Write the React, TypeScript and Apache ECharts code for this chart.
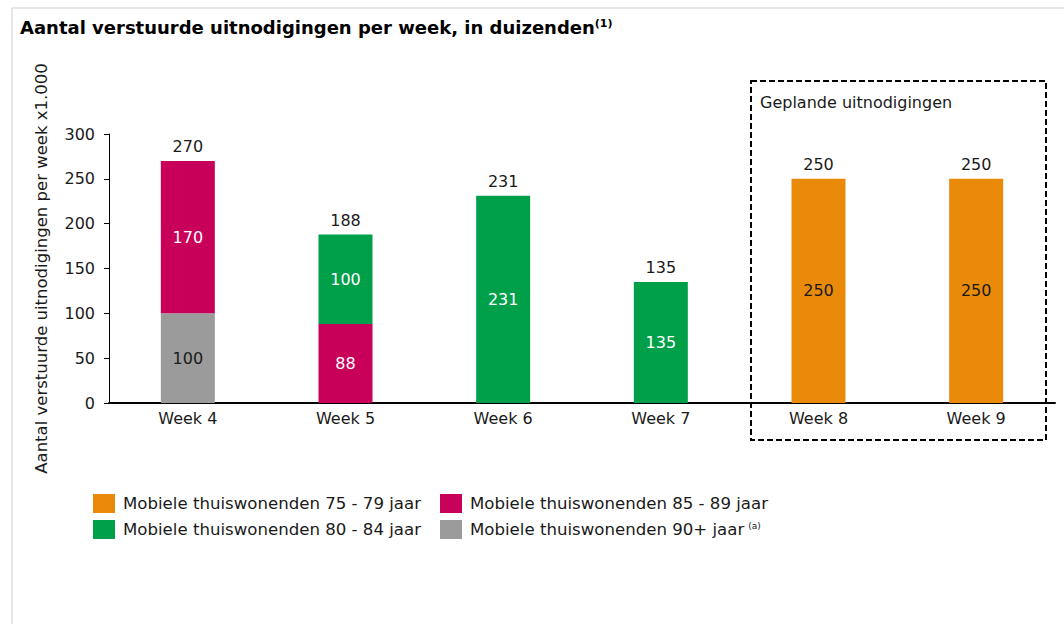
import React, { useEffect, useRef } from "react";
import * as echarts from "echarts";

const weeks = ["Week 4", "Week 5", "Week 6", "Week 7", "Week 8", "Week 9"];
const age90plus = [100, null, null, null, null, null];
const age85to89 = [170, 88, null, null, null, null];
const age80to84 = [null, 100, 231, 135, null, null];
const age75to79 = [null, null, null, null, 250, 250];
const totals = [270, 188, 231, 135, 250, 250];
const yTicks = { min: 0, max: 300, interval: 50 };

const names = {
  a75: "Mobiele thuiswonenden 75 - 79 jaar",
  a80: "Mobiele thuiswonenden 80 - 84 jaar",
  a85: "Mobiele thuiswonenden 85 - 89 jaar",
  a90: "Mobiele thuiswonenden 90+ jaar",
};

const colors = {
  orange: "#E98A0A",
  green: "#00A04B",
  magenta: "#C8005A",
  gray: "#9B9B9B",
};

const FONT = "DejaVu Sans";
const TXT = "#1a1a1a";

export default function App() {
  const ref = useRef<HTMLDivElement>(null);
  useEffect(() => {
    if (!ref.current) return;
    const chart = echarts.init(ref.current, null, { renderer: "svg" });
    const barW = 54;
    const inLabel = (color: string) => ({
      show: true,
      position: "inside",
      color,
      fontFamily: FONT,
      fontSize: 16,
    });
    const legendItem = (name: string, left: number, top: number, fmt?: any) => ({
      show: true,
      left,
      top,
      itemWidth: 22,
      itemHeight: 19,
      padding: 0,
      icon: "rect",
      selectedMode: false,
      data: [name],
      formatter: fmt,
      textStyle: {
        fontFamily: FONT,
        fontSize: 16.6,
        color: TXT,
        padding: [0, 0, 0, 3],
        rich: {
          m: { fontFamily: FONT, fontSize: 16.6, color: TXT },
          sup: { fontFamily: FONT, fontSize: 9, color: TXT, verticalAlign: "top", padding: [0, 0, 0, 4] },
        },
      },
    });
    chart.setOption({
      animation: false,
      textStyle: { fontFamily: FONT },
      title: {
        text: "{m|Aantal verstuurde uitnodigingen per week, in duizenden}{sup|(1)}",
        left: 20,
        top: 18,
        padding: 0,
        textStyle: {
          rich: {
            m: { fontFamily: FONT, fontSize: 18, fontWeight: "bold", color: "#000" },
            sup: { fontFamily: FONT, fontSize: 11, fontWeight: "bold", color: "#000", verticalAlign: "top" },
          },
        },
      },
      legend: [
        legendItem(names.a75, 93, 494),
        legendItem(names.a85, 440, 494),
        legendItem(names.a80, 93, 520),
        legendItem(names.a90, 440, 520, (n: string) => `{m|${n}}{sup|(a)}`),
      ],
      grid: { left: 109, right: 9, top: 134, bottom: 221, containLabel: false },
      xAxis: {
        type: "category",
        data: weeks,
        axisLine: { show: true, lineStyle: { color: "#000", width: 2 } },
        axisTick: { show: false },
        axisLabel: { color: TXT, fontFamily: FONT, fontSize: 16, margin: 7 },
      },
      yAxis: {
        type: "value",
        min: yTicks.min,
        max: yTicks.max,
        interval: yTicks.interval,
        name: "Aantal verstuurde uitnodigingen per week x1.000",
        nameLocation: "middle",
        nameRotate: 90,
        nameGap: 59,
        nameTextStyle: { color: TXT, fontFamily: FONT, fontSize: 16.5 },
        axisLine: { show: true, lineStyle: { color: "#000", width: 1 } },
        axisTick: { show: true, length: 5, lineStyle: { color: "#000" } },
        splitLine: { show: false },
        axisLabel: { color: TXT, fontFamily: FONT, fontSize: 16, margin: 14 },
      },
      series: [
        {
          name: names.a90,
          type: "bar",
          stack: "s",
          barWidth: barW,
          data: age90plus,
          itemStyle: { color: colors.gray },
          label: inLabel(TXT),
        },
        {
          name: names.a85,
          type: "bar",
          stack: "s",
          barWidth: barW,
          data: age85to89,
          itemStyle: { color: colors.magenta },
          label: inLabel("#fff"),
        },
        {
          name: names.a80,
          type: "bar",
          stack: "s",
          barWidth: barW,
          data: age80to84,
          itemStyle: { color: colors.green },
          label: inLabel("#fff"),
        },
        {
          name: names.a75,
          type: "bar",
          stack: "s",
          barWidth: barW,
          data: age75to79,
          itemStyle: { color: colors.orange },
          label: inLabel(TXT),
        },
        {
          name: "Totaal",
          type: "bar",
          barWidth: barW,
          barGap: "-100%",
          data: totals,
          itemStyle: { color: "rgba(0,0,0,0)" },
          label: {
            show: true,
            position: "top",
            distance: 6,
            color: TXT,
            fontFamily: FONT,
            fontSize: 16,
          },
          silent: true,
          z: 1,
        },
      ],
      graphic: [
        {
          type: "line",
          shape: { x1: 12, y1: 8, x2: 1064, y2: 8 },
          style: { stroke: "#cfcfcf", lineWidth: 1 },
        },
        {
          type: "line",
          shape: { x1: 12, y1: 8, x2: 12, y2: 624 },
          style: { stroke: "#cfcfcf", lineWidth: 1 },
        },
        {
          type: "rect",
          shape: { x: 751, y: 81, width: 295, height: 359 },
          style: { fill: "none", stroke: "#000", lineWidth: 2, lineDash: [6, 3] },
          z: 10,
        },
        {
          type: "text",
          x: 760,
          y: 94,
          style: { text: "Geplande uitnodigingen", fill: TXT, font: `16px ${FONT}` },
          z: 10,
        },
      ],
    });
    return () => chart.dispose();
  }, []);
  return (
    <div
      ref={ref}
      style={{ position: "absolute", left: 0, top: 0, width: 1064, height: 624, background: "#fff" }}
    />
  );
}
